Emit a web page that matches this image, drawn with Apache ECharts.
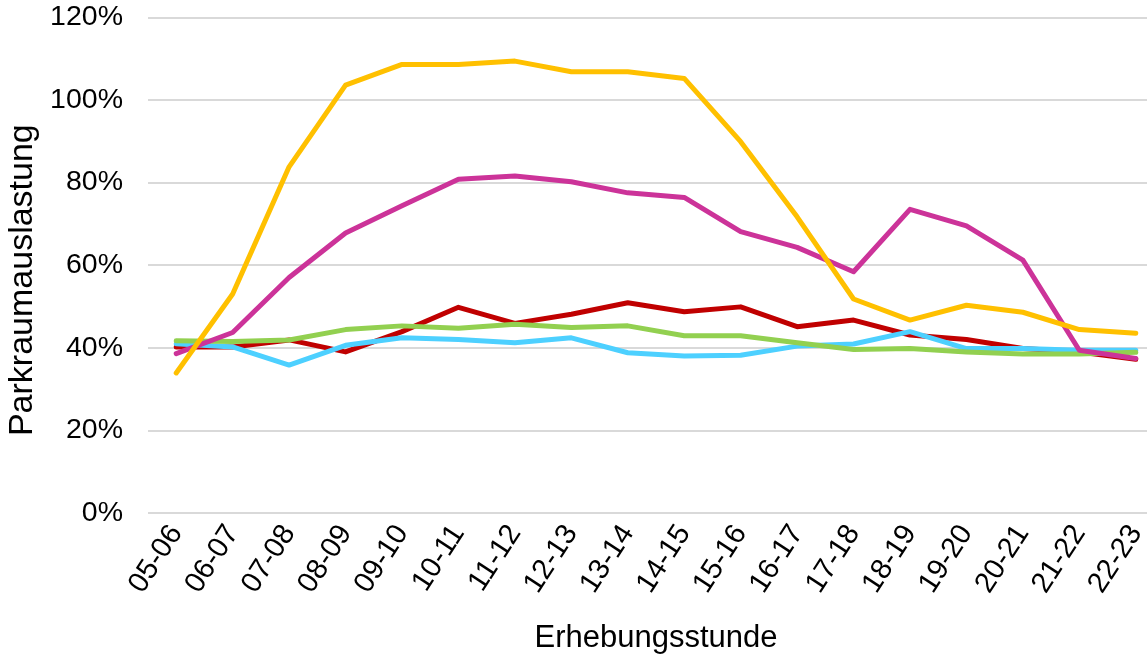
<!DOCTYPE html>
<html>
<head>
<meta charset="utf-8">
<script src="https://cdn.jsdelivr.net/npm/echarts@6/dist/echarts.min.js"></script>
<style>
html,body{margin:0;padding:0;background:#fff;}
#chart{width:1147px;height:656px;}
</style>
</head>
<body>
<div id="chart"></div>
<script>
const categories = ['05-06','06-07','07-08','08-09','09-10','10-11','11-12','12-13','13-14','14-15','15-16','16-17','17-18','18-19','19-20','20-21','21-22','22-23'];
const yTicks = [0, 20, 40, 60, 80, 100, 120];
const redSeries     = [40.2, 40.2, 41.9, 39.0, 43.9, 49.8, 45.9, 48.1, 50.9, 48.7, 49.9, 45.1, 46.7, 43.1, 42.0, 39.8, 39.0, 37.2];
const cyanSeries    = [41.0, 40.2, 35.8, 40.6, 42.4, 42.0, 41.2, 42.4, 38.8, 38.0, 38.2, 40.4, 40.9, 43.9, 39.8, 39.8, 39.4, 39.4];
const greenSeries   = [41.7, 41.5, 41.9, 44.4, 45.3, 44.7, 45.7, 44.9, 45.3, 42.9, 42.9, 41.2, 39.6, 39.8, 39.0, 38.5, 38.5, 38.9];
const magentaSeries = [38.6, 43.7, 57.0, 67.8, 74.4, 80.8, 81.6, 80.2, 77.5, 76.4, 68.1, 64.3, 58.4, 73.5, 69.5, 61.2, 39.4, 37.4];
const yellowSeries  = [33.9, 53.0, 83.8, 103.6, 108.6, 108.6, 109.4, 106.8, 106.8, 105.2, 89.9, 71.7, 51.8, 46.7, 50.3, 48.6, 44.4, 43.5];

const FONT = 'Liberation Sans, Arial, sans-serif';
const chart = echarts.init(document.getElementById('chart'), null, {renderer: 'canvas'});
function line(data, color) {
  return {
    type: 'line', data: data, symbol: 'none', smooth: false,
    lineStyle: {color: color, width: 5, cap: 'round', join: 'round'},
    itemStyle: {color: color}
  };
}
chart.setOption({
  animation: false,
  backgroundColor: '#ffffff',
  grid: {left: 148, right: -17, top: 17.3, bottom: 143, containLabel: false, outerBoundsMode: 'none'},
  xAxis: {
    type: 'category', data: categories, boundaryGap: true,
    axisLine: {show: false}, axisTick: {show: false},
    axisLabel: {rotate: 57, color: '#000', fontFamily: FONT, fontSize: 29, margin: 15, interval: 0},
    name: 'Erhebungsstunde', nameLocation: 'middle', nameGap: 110,
    nameTextStyle: {color: '#000', fontFamily: FONT, fontSize: 31}
  },
  yAxis: {
    type: 'value', min: yTicks[0], max: yTicks[yTicks.length - 1], interval: 20,
    axisLine: {show: false}, axisTick: {show: false},
    splitLine: {lineStyle: {color: '#d9d9d9', width: 2}},
    axisLabel: {formatter: '{value}%', color: '#000', fontFamily: FONT, fontSize: 28.5, margin: 25},
    name: 'Parkraumauslastung', nameLocation: 'middle', nameGap: 103, nameRotate: 90,
    nameTextStyle: {color: '#000', fontFamily: FONT, fontSize: 34, padding: [0, 30, 0, 0]}
  },
  series: [
    line(redSeries, '#C00000'),
    line(cyanSeries, '#4DD0FF'),
    line(greenSeries, '#92D050'),
    line(magentaSeries, '#CC3399'),
    line(yellowSeries, '#FFC000')
  ]
});
</script>
</body>
</html>
